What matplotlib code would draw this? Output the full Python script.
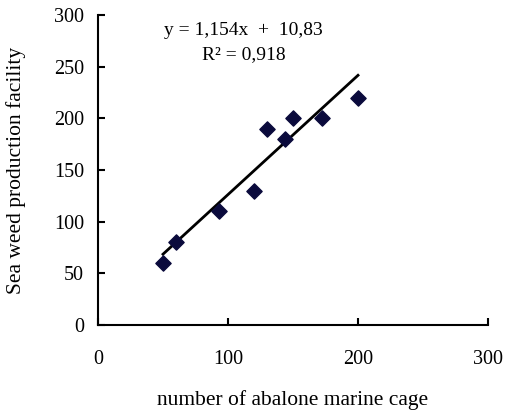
import numpy as np
import matplotlib.pyplot as plt

# data
cages = [50, 60, 93, 120, 130, 144, 150, 172, 200]
seaweed = [60, 80, 110, 130, 190, 180, 200, 200, 220]
slope, intercept = 1.154, 10.83
r2 = 0.918

plt.rcParams['font.family'] = ['Liberation Serif', 'DejaVu Serif']

fig = plt.figure(figsize=(5.05, 4.13), dpi=100)
ax = fig.add_axes([98 / 505, 1 - 325 / 413, 390 / 505, 310 / 413])

ax.scatter(cages, seaweed, marker='D', s=60, color='#0a0a3c', zorder=3)

xs = np.array([min(cages), max(cages)])
ax.plot(xs, slope * xs + intercept, color='black', lw=2)

ax.text(112, 285, f"y = {slope:.3f}x  +  {intercept:.2f}".replace('.', ','),
        ha='center', va='center', fontsize=14)
ax.text(112, 262, f"R² = {r2:.3f}".replace('.', ','),
        ha='center', va='center', fontsize=14)

ax.set_xlim(0, 300)
ax.set_ylim(0, 300)
ax.set_xticks([0, 100, 200, 300])
ax.set_yticks(range(0, 301, 50))
for s in ['top', 'right']:
    ax.spines[s].set_visible(False)
for s in ['left', 'bottom']:
    ax.spines[s].set_linewidth(1.5)
ax.tick_params(direction='in', length=5, width=1.5, labelsize=14.5)
ax.tick_params(axis='x', pad=18)
ax.tick_params(axis='y', pad=10)

ax.set_xlabel('number of abalone marine cage', fontsize=15.5, labelpad=15)
ax.set_ylabel('Sea weed production facility', fontsize=15.5, labelpad=20)

fig.savefig('out.png', dpi=100)
